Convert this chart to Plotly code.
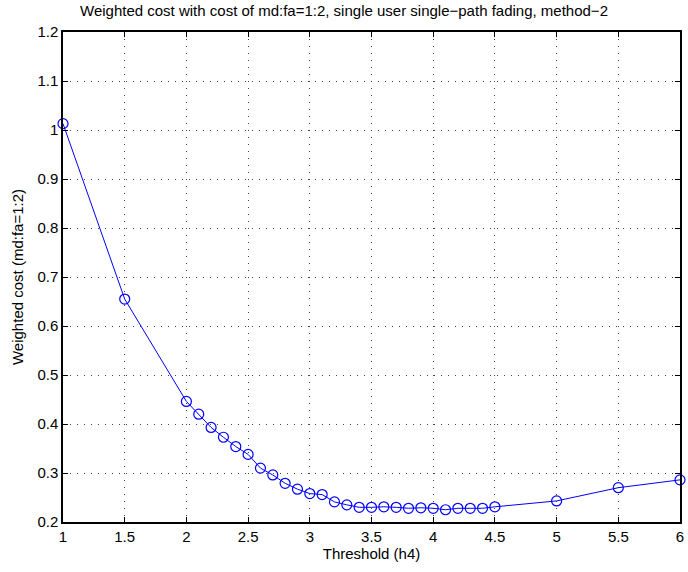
import plotly.graph_objects as go

threshold = [1.0, 1.5, 2.0, 2.1, 2.2, 2.3, 2.4, 2.5, 2.6, 2.7, 2.8, 2.9, 3.0, 3.1, 3.2, 3.3,
             3.4, 3.5, 3.6, 3.7, 3.8, 3.9, 4.0, 4.1, 4.2, 4.3, 4.4, 4.5, 5.0, 5.5, 6.0]
weighted_cost = [1.013, 0.655, 0.446, 0.420, 0.393, 0.373, 0.354, 0.338, 0.310, 0.296, 0.279,
                 0.267, 0.258, 0.256, 0.241, 0.235, 0.230, 0.230, 0.231, 0.230, 0.228, 0.229,
                 0.228, 0.225, 0.228, 0.228, 0.228, 0.231, 0.243, 0.270, 0.286]

title_text = "Weighted cost with cost of md:fa=1:2, single user single\u2212path fading, method\u22122"
x_title = "Threshold (h4)"
y_title = "Weighted cost (md:fa=1:2)"

FONT = "Liberation Sans, Arial, sans-serif"

fig = go.Figure()
fig.add_trace(go.Scatter(
    x=threshold, y=weighted_cost, mode="lines+markers",
    line=dict(color="#0000ff", width=1),
    marker=dict(symbol="circle-open", size=10, color="#0000ff", line=dict(width=1.2, color="#0000ff")),
    showlegend=False, cliponaxis=False,
))

axis_common = dict(
    showline=True, linecolor="black", linewidth=1.5, mirror="ticks",
    ticks="inside", ticklen=5, tickcolor="black", tickwidth=1,
    showgrid=True, gridcolor="#444444", griddash="1px,6px", gridwidth=1,
    zeroline=False,
    tickfont=dict(family=FONT, size=15, color="black"),
)

fig.update_layout(
    width=688, height=572,
    margin=dict(l=63, r=4, t=32, b=50),
    paper_bgcolor="white", plot_bgcolor="white",
    title=dict(text=title_text, x=0.5, xanchor="center", y=0.99, yanchor="top",
               font=dict(family=FONT, size=15, color="black")),
    xaxis=dict(range=[1, 6], dtick=0.5, tick0=1,
               title=dict(text=x_title, standoff=2, font=dict(family=FONT, size=15, color="black")),
               **axis_common),
    yaxis=dict(range=[0.2, 1.2], dtick=0.1, tick0=0.2,
               title=dict(text=y_title, standoff=10, font=dict(family=FONT, size=15, color="black")),
               **axis_common),
)

fig.write_html("out.html")
